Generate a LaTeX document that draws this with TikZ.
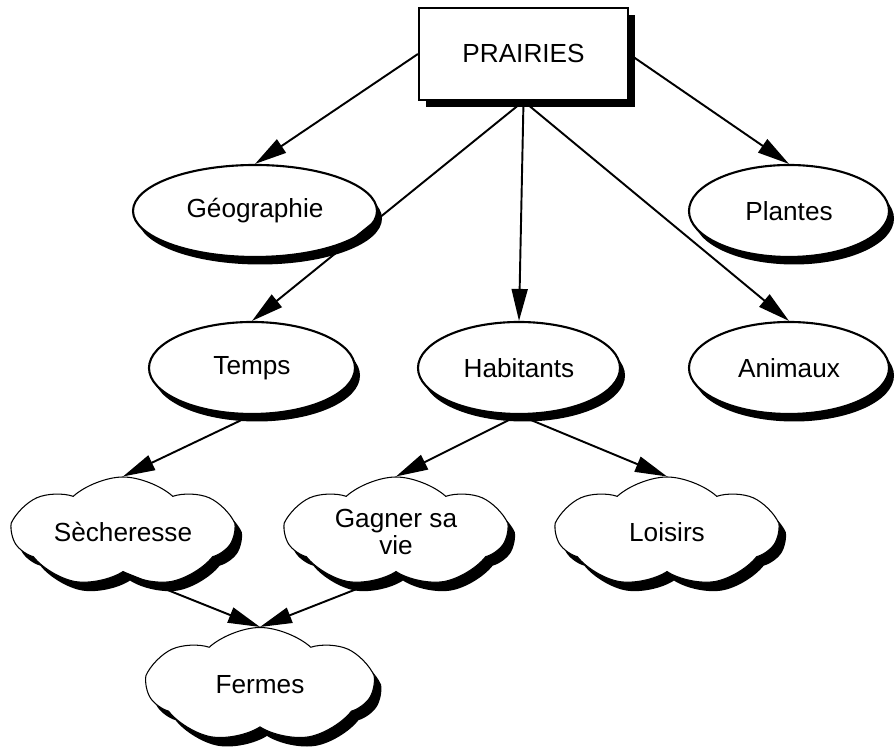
\documentclass[tikz,border=0pt]{standalone}
\usepackage{fontspec}
\setmainfont{Liberation Sans}
\usepackage{tikz}
\usetikzlibrary{positioning, arrows.meta, shapes.geometric, shapes.symbols, shadows}

\begin{document}
\begin{tikzpicture}[
        >={Triangle[length = 0.64cm, width = 0.32cm]},
        every edge/.style = {draw, line width = 1.1pt},
        topic/.style = {rectangle, draw, line width = 1.2pt, fill = white, minimum width = 4.18cm, minimum height = 1.84cm,
            drop shadow = {fill = black, opacity = 1, shadow xshift = 0.14cm, shadow yshift = -0.15cm}},
        branch/.style = {ellipse, draw, line width = 1.2pt, fill = white, minimum height = 1.84cm, inner sep = 0pt,
            drop shadow = {fill = black, opacity = 1, shadow xshift = 0.1cm, shadow yshift = -0.15cm}},
        idea/.style = {cloud, cloud puffs = 7, cloud puff arc = 85, cloud ignores aspect, draw, line width = 0.6pt, fill = white,
            minimum width = 4.4cm, minimum height = 2.2cm, align = center,
            drop shadow = {fill = black, opacity = 1, shadow xshift = 0.14cm, shadow yshift = -0.18cm}},
        font = \fontsize{14.9pt}{12.8pt}\selectfont
    ]
        \useasboundingbox (0, 0) rectangle (17.92, 14.96);

        \node[topic] (prairies) at (10.47, 13.88) {PRAIRIES};
        \node[branch, minimum width = 4.88cm] (geo) at (5.10, 10.74) {Géographie};
        \node[branch, minimum width = 4.0cm] (plantes) at (15.78, 10.74) {Plantes};
        \node[branch, minimum width = 4.12cm] (temps) at (5.04, 7.60) {Temps};
        \node[branch, minimum width = 4.04cm] (habitants) at (10.38, 7.60) {Habitants};
        \node[branch, minimum width = 4.0cm] (animaux) at (15.78, 7.60) {Animaux};

        \node[idea] (secheresse) at (2.46, 4.32) {Sècheresse};
        \node[idea] (gagnerVie) at (7.92, 4.32) {Gagner sa\\vie};
        \node[idea] (loisirs) at (13.34, 4.32) {Loisirs};
        \node[idea, minimum width = 4.5cm, minimum height = 2.3cm] (fermes) at (5.20, 1.26) {Fermes};

        \draw (prairies.west) edge[->] (geo.north);
        \draw (prairies.east) edge[->] (plantes.north);
        \draw (prairies.south) edge[->] (temps.north);
        \draw (prairies.south) edge[->] (habitants.north);
        \draw (prairies.south) edge[->] (animaux.north);
        \draw (temps.south) edge[->] (secheresse.north);
        \draw (habitants.south) edge[->] (gagnerVie.north);
        \draw (habitants.south) edge[->] (loisirs.north);
        \draw (secheresse.south) edge[->] (fermes.north);
        \draw (gagnerVie.255) edge[->] (fermes.north);
      \end{tikzpicture}
\end{document}
